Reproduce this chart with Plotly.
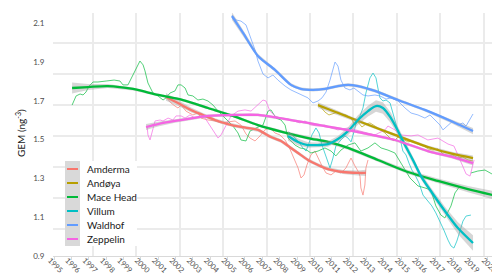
import numpy as np
import plotly.graph_objects as go

# ---------------- data ----------------
SERIES = ["Amderma", "Andøya", "Mace Head", "Villum", "Waldhof", "Zeppelin"]
COLORS = ["#F8766D", "#B79F00", "#00BA38", "#00BFC4", "#619CFF", "#F564E3"]

YEARS = list(range(1995, 2021))
Y_TICKS = [0.9, 1.1, 1.3, 1.5, 1.7, 1.9, 2.1]
Y_GRID = [1.04, 1.2, 1.36, 1.52, 1.68, 1.84, 2.0]
X_GRID = [1997.25, 1999.75, 2002.25, 2004.75, 2007.25, 2009.75, 2012.25, 2014.75, 2017.25, 2019.75]

# raw series
amderma_x = [2001.39, 2001.57, 2001.74, 2001.97, 2002.14, 2002.32, 2002.6, 2003.0, 2003.29, 2003.47,
             2003.87, 2004.27, 2004.62, 2005.02, 2005.43, 2005.77, 2006.06, 2006.29, 2006.58, 2006.87,
             2007.15, 2007.44, 2007.73, 2008.02, 2008.31, 2008.54, 2008.71, 2008.88, 2009.06, 2009.23,
             2009.4, 2009.57, 2009.8, 2010.03, 2010.21, 2010.44, 2010.67, 2010.96, 2011.24, 2011.53,
             2011.82, 2012.11, 2012.34, 2012.51, 2012.63, 2012.68, 2012.8, 2012.91, 2012.97, 2013.09]
amderma_y = [1.725, 1.704, 1.689, 1.673, 1.663, 1.678, 1.647, 1.627, 1.637, 1.611,
             1.601, 1.596, 1.586, 1.591, 1.596, 1.575, 1.529, 1.508, 1.493, 1.519,
             1.55, 1.56, 1.534, 1.524, 1.498, 1.462, 1.426, 1.395, 1.354, 1.302,
             1.318, 1.369, 1.421, 1.441, 1.405, 1.364, 1.328, 1.318, 1.338, 1.328,
             1.354, 1.405, 1.364, 1.338, 1.312, 1.251, 1.214, 1.266, 1.354, 1.395]

andoya_x = [2010.21, 2010.38, 2010.61, 2010.84, 2011.07, 2011.36, 2011.59, 2011.82, 2012.11, 2012.34,
            2012.51, 2012.74, 2012.97, 2013.2, 2013.49, 2013.78, 2014.07, 2014.36, 2014.59, 2014.82,
            2015.1, 2015.39, 2015.68, 2015.97, 2016.26, 2016.54, 2016.83, 2017.12, 2017.41, 2017.7,
            2017.98, 2018.27, 2018.56, 2018.85, 2019.14]
andoya_y = [1.684, 1.668, 1.642, 1.627, 1.632, 1.642, 1.632, 1.627, 1.611, 1.575,
            1.591, 1.565, 1.58, 1.586, 1.57, 1.55, 1.534, 1.508, 1.493, 1.513,
            1.503, 1.488, 1.493, 1.477, 1.472, 1.452, 1.446, 1.452, 1.426, 1.416,
            1.421, 1.405, 1.41, 1.395, 1.39]

macehead_x = [1996.04, 1996.27, 1996.5, 1996.67, 1996.84, 1997.02, 1997.25, 1997.53, 1998.0, 1998.46,
              1998.8, 1998.97, 1999.26, 1999.55, 1999.72, 1999.95, 2000.13, 2000.24, 2000.41, 2000.7,
              2000.99, 2001.28, 2001.45, 2001.68, 2001.97, 2002.14, 2002.32, 2002.55, 2002.72, 2003.0,
              2003.29, 2003.58, 2003.87, 2004.16, 2004.45, 2004.73, 2005.02, 2005.31, 2005.6, 2005.77,
              2006.06, 2006.29, 2006.64, 2007.04, 2007.33, 2007.5, 2007.79, 2008.08, 2008.31, 2008.48,
              2008.65, 2008.88, 2009.17, 2009.46, 2009.8, 2010.21, 2010.61, 2010.96, 2011.24, 2011.53,
              2011.94, 2012.34, 2012.68, 2013.09, 2013.49, 2013.84, 2014.24, 2014.64, 2014.99, 2015.28,
              2015.51, 2015.8, 2015.97, 2016.37, 2016.71, 2017.0, 2017.29, 2017.52, 2017.7, 2017.87,
              2018.1, 2018.39, None, 2019.02, 2019.42, 2019.83, 2020.23]
macehead_y = [1.678, 1.725, 1.735, 1.73, 1.745, 1.776, 1.797, 1.797, 1.802, 1.807,
              1.802, 1.782, 1.782, 1.833, 1.869, 1.905, 1.885, 1.854, 1.792, 1.74,
              1.725, 1.704, 1.715, 1.74, 1.751, 1.782, 1.782, 1.766, 1.73, 1.725,
              1.704, 1.709, 1.699, 1.678, 1.647, 1.622, 1.601, 1.57, 1.534, 1.498,
              1.493, 1.544, 1.56, 1.575, 1.647, 1.653, 1.611, 1.601, 1.575, 1.508,
              1.493, 1.472, 1.457, 1.452, 1.431, 1.441, 1.457, 1.441, 1.416, 1.446,
              1.472, 1.483, 1.441, 1.457, 1.483, 1.457, 1.446, 1.431, 1.379, 1.338,
              1.302, 1.276, 1.261, 1.251, 1.24, 1.158, 1.111, 1.096, 1.132, 1.158,
              1.225, 1.261, None, 1.328, 1.338, 1.343, 1.323]

villum_x = [2008.54, 2008.77, 2009.06, 2009.34, 2009.52, 2009.69, 2009.86, 2010.09, 2010.27, 2010.44,
            2010.61, 2010.78, 2010.9, 2011.07, 2011.24, 2011.53, 2011.76, 2011.94, 2012.11, 2012.28,
            2012.45, 2012.63, 2012.8, 2012.97, 2013.2, 2013.38, 2013.55, 2013.66, 2013.78, 2013.95,
            2014.13, 2014.36, 2014.53, 2014.7, 2014.93, 2015.1, 2015.28, 2015.45, 2015.62, 2015.8,
            2016.03, 2016.26, 2016.54, 2016.77, 2017.0, 2017.29, 2017.46, 2017.7, 2017.87, 2018.04,
            2018.21, 2018.39, 2018.56, 2018.74, 2019.02]
villum_y = [1.539, 1.519, 1.493, 1.457, 1.441, 1.483, 1.524, 1.56, 1.534, 1.472,
            1.426, 1.379, 1.354, 1.405, 1.467, 1.498, 1.519, 1.508, 1.488, 1.539,
            1.601, 1.622, 1.663, 1.74, 1.818, 1.843, 1.818, 1.766, 1.715, 1.699,
            1.704, 1.689, 1.637, 1.575, 1.508, 1.441, 1.421, 1.379, 1.343, 1.318,
            1.276, 1.214, 1.184, 1.158, 1.122, 1.07, 1.034, 0.982, 0.952, 0.941,
            0.977, 1.029, 1.08, 1.106, 1.111]

waldhof_x = [2005.25, 2005.48, 2005.77, 2006.06, 2006.29, 2006.58, 2006.75, 2007.04, 2007.33, 2007.61,
             2007.9, 2008.31, 2008.65, 2009.06, 2009.34, 2009.63, 2009.92, 2010.21, 2010.44, 2010.67,
             2010.9, 2011.07, 2011.19, 2011.36, 2011.53, 2011.76, 2012.05, 2012.28, 2012.51, 2012.8,
             2013.09, 2013.49, 2013.78, 2014.13, 2014.42, 2014.82, 2015.22, 2015.57, 2015.97, 2016.37,
             2016.66, 2016.95, 2017.24, 2017.41, 2017.7, 2017.98, 2018.27, 2018.56, 2018.74, 2019.02,
             2019.14]
waldhof_y = [2.142, 2.117, 2.111, 2.091, 2.034, 1.962, 1.905, 1.838, 1.818, 1.833,
             1.807, 1.776, 1.756, 1.74, 1.725, 1.715, 1.689, 1.699, 1.715, 1.745,
             1.807, 1.859, 1.9, 1.879, 1.807, 1.766, 1.756, 1.766, 1.751, 1.73,
             1.725, 1.73, 1.725, 1.709, 1.715, 1.699, 1.663, 1.637, 1.627, 1.611,
             1.627, 1.601, 1.575, 1.55, 1.575, 1.596, 1.575, 1.586, 1.57, 1.611,
             1.632]

zeppelin_x = [2000.36, 2000.41, 2000.53, 2000.65, 2000.82, 2001.11, 2001.28, 2001.57, 2001.85, 2002.03,
              2002.32, 2002.55, 2002.83, 2003.12, 2003.41, 2003.7, 2003.87, 2004.16, 2004.45, 2004.62,
              2004.85, 2005.2, 2005.6, 2006.0, 2006.35, 2006.75, 2007.04, 2007.21, 2007.44, 2007.73,
              2008.02, 2008.48, 2008.88, 2009.17, 2009.46, 2009.8, 2010.21, 2010.61, 2010.96, 2011.36,
              2011.94, 2012.68, 2013.49, 2014.07, 2014.24, 2014.64, 2014.99, 2015.57, 2015.97, 2016.54,
              2017.12, 2017.7, 2018.04, 2018.27, 2018.56, 2018.74, 2018.97, 2019.14, 2019.2]
zeppelin_y = [1.57, 1.524, 1.498, 1.534, 1.596, 1.601, 1.596, 1.611, 1.601, 1.622,
              1.622, 1.611, 1.627, 1.611, 1.617, 1.611, 1.586, 1.544, 1.508, 1.524,
              1.56, 1.622, 1.647, 1.653, 1.647, 1.678, 1.704, 1.699, 1.647, 1.622,
              1.611, 1.606, 1.596, 1.586, 1.596, 1.575, 1.57, 1.575, 1.56, 1.55,
              1.56, 1.544, 1.524, 1.55, 1.57, 1.55, 1.524, 1.519, 1.524, 1.498,
              1.508, 1.477, 1.467, 1.421, 1.364, 1.323, 1.312, 1.364, 1.395]

# smoothed trends with confidence half-widths
amderma_sx = [2001.45, 2002.14, 2002.89, 2003.58, 2004.27, 2005.02, 2005.77, 2006.75, 2007.5, 2008.08,
              2008.65, 2009.06, 2009.63, 2010.21, 2010.78, 2011.65, 2012.51, 2012.97]
amderma_sy = [1.72, 1.689, 1.653, 1.627, 1.601, 1.58, 1.565, 1.55, 1.513, 1.493,
              1.457, 1.431, 1.395, 1.369, 1.348, 1.333, 1.328, 1.328]
amderma_ci = [0.02, 0.015, 0.012, 0.01, 0.009, 0.009, 0.009, 0.009, 0.009, 0.009,
              0.009, 0.009, 0.009, 0.009, 0.009, 0.01, 0.013, 0.016]

andoya_sx = [2010.21, 2010.78, 2012.68, 2014.64, 2016.54, 2017.98, 2019.14]
andoya_sy = [1.678, 1.658, 1.591, 1.524, 1.462, 1.426, 1.405]
andoya_ci = [0.015, 0.012, 0.008, 0.007, 0.008, 0.01, 0.013]

macehead_sx = [1996.04, 1996.96, 1998.1, 1999.55, 2000.99, 2002.43, 2003.87, 2005.31, 2006.75, 2008.19,
               2009.63, 2010.78, 2011.94, 2013.66, 2015.39, 2017.12, 2018.85, 2020.29]
macehead_sy = [1.766, 1.771, 1.776, 1.761, 1.73, 1.704, 1.663, 1.622, 1.575, 1.539,
               1.508, 1.488, 1.457, 1.395, 1.333, 1.287, 1.245, 1.214]
macehead_ci = [0.028, 0.015, 0.01, 0.008, 0.007, 0.007, 0.007, 0.007, 0.007, 0.008,
               0.009, 0.009, 0.009, 0.009, 0.01, 0.012, 0.016, 0.022]

villum_sx = [2008.48, 2009.06, 2009.63, 2010.21, 2010.78, 2011.36, 2011.94, 2012.51, 2013.09, 2013.55,
             2013.95, 2014.41, 2014.82, 2015.22, 2015.68, 2016.14, 2016.71, 2017.52, 2018.27, 2019.14]
villum_sy = [1.519, 1.488, 1.472, 1.472, 1.477, 1.503, 1.544, 1.601, 1.647, 1.673,
             1.663, 1.611, 1.544, 1.472, 1.395, 1.312, 1.235, 1.132, 1.044, 0.967]
villum_ci = [0.025, 0.018, 0.014, 0.013, 0.014, 0.016, 0.02, 0.025, 0.028, 0.03,
             0.03, 0.027, 0.022, 0.018, 0.016, 0.016, 0.018, 0.022, 0.03, 0.04]

waldhof_sx = [2005.25, 2005.89, 2006.75, 2007.73, 2008.65, 2009.22, 2009.92, 2010.61, 2011.36, 2011.94,
              2012.51, 2013.49, 2014.82, 2016.37, 2017.87, 2019.14]
waldhof_sy = [2.137, 2.05, 1.931, 1.859, 1.782, 1.761, 1.756, 1.761, 1.776, 1.782,
              1.776, 1.751, 1.704, 1.653, 1.596, 1.544]
waldhof_ci = [0.02, 0.014, 0.01, 0.009, 0.008, 0.008, 0.008, 0.008, 0.008, 0.008,
              0.008, 0.008, 0.008, 0.008, 0.01, 0.016]

zeppelin_sx = [2000.3, 2000.99, 2001.97, 2003.0, 2003.87, 2005.6, 2006.75, 2008.65, 2010.61, 2012.51,
               2014.64, 2016.54, 2017.98, 2019.14]
zeppelin_sy = [1.565, 1.58, 1.596, 1.611, 1.622, 1.627, 1.627, 1.601, 1.57, 1.539,
               1.498, 1.441, 1.41, 1.379]
zeppelin_ci = [0.015, 0.012, 0.009, 0.008, 0.007, 0.007, 0.007, 0.006, 0.006, 0.006,
               0.006, 0.007, 0.009, 0.013]

RAW = [(amderma_x, amderma_y), (andoya_x, andoya_y), (macehead_x, macehead_y),
       (villum_x, villum_y), (waldhof_x, waldhof_y), (zeppelin_x, zeppelin_y)]
SMOOTH = [(amderma_sx, amderma_sy, amderma_ci), (andoya_sx, andoya_sy, andoya_ci),
          (macehead_sx, macehead_sy, macehead_ci), (villum_sx, villum_sy, villum_ci),
          (waldhof_sx, waldhof_sy, waldhof_ci), (zeppelin_sx, zeppelin_sy, zeppelin_ci)]

# ---------------- figure ----------------
FONT = "Lato, 'Open Sans', sans-serif"
fig = go.Figure()

for name, col, (rx, ry) in zip(SERIES, COLORS, RAW):
    fig.add_trace(go.Scatter(x=rx, y=ry, mode="lines", name=name, showlegend=False,
                             line=dict(color=col, width=0.9), opacity=0.75,
                             connectgaps=False, hoverinfo="skip"))

for name, col, (sx, sy, ci) in zip(SERIES, COLORS, SMOOTH):
    sx_a, sy_a, ci_a = np.array(sx), np.array(sy), np.array(ci)
    fig.add_trace(go.Scatter(x=np.concatenate([sx_a, sx_a[::-1]]),
                             y=np.concatenate([sy_a + ci_a, (sy_a - ci_a)[::-1]]),
                             fill="toself", fillcolor="rgba(153,153,153,0.4)",
                             line=dict(width=0), mode="lines", showlegend=False,
                             hoverinfo="skip"))
    fig.add_trace(go.Scatter(x=sx, y=sy, mode="lines", name=name + " trend",
                             line=dict(color=col, width=2.3, shape="spline", smoothing=0.8),
                             showlegend=False))

# plot area in pixels: left 45, right 490, top 5, bottom 248
L, R, T, B = 45, 490, 5, 248
def px_x(p):
    return (p - L) / (R - L)
def px_y(p):
    return (B - p) / (B - T)

shapes = [
    dict(type="rect", xref="paper", yref="paper", x0=px_x(57), x1=px_x(129),
         y0=px_y(238), y1=px_y(153), fillcolor="white", line=dict(width=0), layer="above"),
    dict(type="rect", xref="paper", yref="paper", x0=px_x(57), x1=px_x(72),
         y0=px_y(238), y1=px_y(153), fillcolor="#d9d9d9", line=dict(width=0), layer="above"),
]
annotations = []
for i, (name, col) in enumerate(zip(SERIES, COLORS)):
    yy = 161 + 14 * i
    shapes.append(dict(type="line", xref="paper", yref="paper", x0=px_x(59), x1=px_x(70),
                       y0=px_y(yy), y1=px_y(yy), line=dict(color=col, width=2), layer="above"))
    annotations.append(dict(text=name, xref="paper", yref="paper", x=px_x(77), y=px_y(yy),
                            xanchor="left", yanchor="middle", showarrow=False,
                            font=dict(family=FONT, size=10, color="#1a1a1a")))

annotations.append(dict(text="GEM (ng<sup>-3</sup>)", xref="paper", yref="paper",
                        x=px_x(12), y=px_y(125), textangle=-90, showarrow=False,
                        xanchor="center", yanchor="middle",
                        font=dict(family=FONT, size=10, color="#1a1a1a")))

fig.update_layout(
    width=500, height=280,
    margin=dict(l=L, r=500 - R, t=T, b=280 - B),
    plot_bgcolor="white", paper_bgcolor="white",
    showlegend=False,
    font=dict(family=FONT, size=9, color="#4d4d4d"),
    shapes=shapes, annotations=annotations,
    xaxis=dict(range=[1994.94, 2020.58], tickmode="array", tickvals=YEARS,
               ticktext=[str(y) for y in YEARS], tickangle=45,
               tickfont=dict(size=7.5, color="#4d4d4d"), ticklabelstandoff=-7,
               ticklabelshift=-4,
               showgrid=False, zeroline=False, showline=True, linecolor="#d9d9d9",
               ticks="outside", ticklen=3, tickcolor="#d9d9d9",
               minor=dict(tickmode="array", tickvals=X_GRID, showgrid=True,
                          gridcolor="#ebebeb", gridwidth=1.6, ticks="")),
    yaxis=dict(range=[0.9, 2.1526], tickmode="array", tickvals=Y_TICKS,
               ticktext=[f"{v:.1f}" for v in Y_TICKS],
               tickfont=dict(size=8, color="#4d4d4d"),
               showgrid=False, zeroline=False, showline=False,
               ticks="outside", ticklen=6, tickcolor="rgba(0,0,0,0)",
               minor=dict(tickmode="array", tickvals=Y_GRID, showgrid=True,
                          gridcolor="#ebebeb", gridwidth=1.6, ticks="")),
)

fig.write_html("out.html")
